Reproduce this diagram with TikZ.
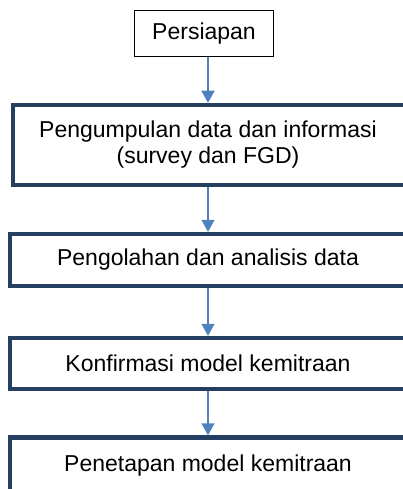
\documentclass[tikz,border=0pt]{standalone}
\usepackage{fontspec}
\setmainfont{Liberation Sans}
\usetikzlibrary{arrows.meta}
\definecolor{frame}{RGB}{36,63,96}
\definecolor{flow}{RGB}{79,129,189}

\begin{document}
\begin{tikzpicture}[
        x={(1pt,0pt)}, y={(0pt,-1pt)},
        start/.style={shape=rectangle, draw=black, line width=1pt, fill=white,
          minimum width=139pt, minimum height=46pt, inner sep=0pt,
          font=\fontsize{23}{26}\selectfont},
        stage/.style={shape=rectangle, draw=frame, line width=4.5pt, fill=white,
          minimum width=396pt, inner sep=0pt, align=center,
          font=\fontsize{23}{26}\selectfont},
        link/.style={-{Triangle[width=13pt,length=12pt]}, line width=1.5pt, flow},
        ]
        \useasboundingbox (0,0) rectangle (403,489);
        \clip (0,0) rectangle (403,489);
        %
        \node(prep) [start] at (204,34) {Persiapan};
        \node(collect)[stage, minimum height=80pt] at (211,145)
          {\hspace*{-6pt}Pengumpulan data dan informasi\\\hspace*{-6pt}(survey dan FGD)};
        \node(analyse)[stage, minimum height=52pt] at (208,260) {Pengolahan dan analisis data};
        \node(confirm)[stage, minimum height=51pt] at (208,363.5) {Konfirmasi model kemitraan};
        \node(fix)    [stage, minimum height=56pt] at (208,465.5) {Penetapan model kemitraan};

        \draw[link](analyse.north |- prep.south) -- (analyse.north |- collect.north);
        \draw[link](collect.south -| analyse.north) -- (analyse);
        \draw[link](analyse) -- (confirm);
        \draw[link](confirm) -- (fix);
      \end{tikzpicture}
\end{document}
